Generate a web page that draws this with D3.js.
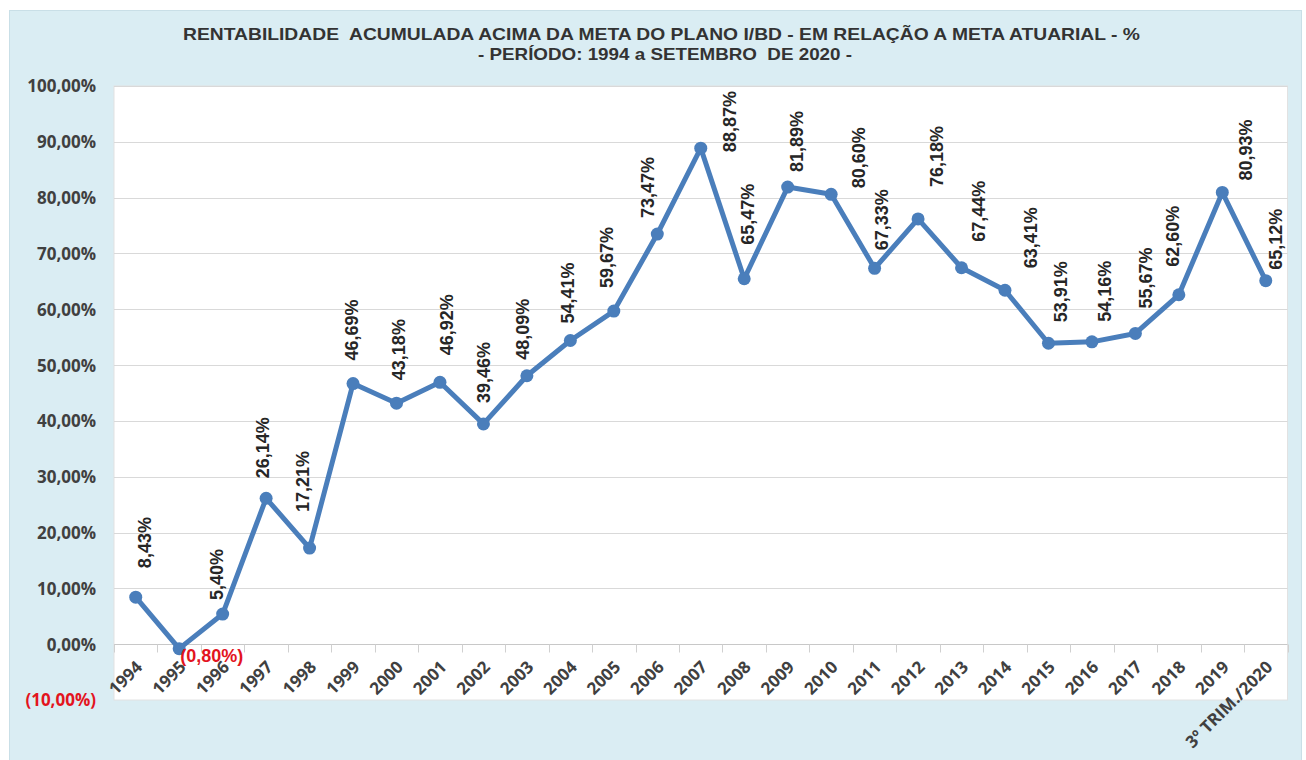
<!DOCTYPE html>
<html>
<head>
<meta charset="utf-8">
<script src="https://cdn.jsdelivr.net/npm/d3@7"></script>
<style>
  html, body { margin: 0; padding: 0; background: #ffffff; }
  svg { display: block; }
  .title text { white-space: pre; }
</style>
</head>
<body>
<script>
// Rentabilidade acumulada acima da meta — Plano I/BD
const categories = ["1994", "1995", "1996", "1997", "1998", "1999", "2000", "2001", "2002", "2003",
  "2004", "2005", "2006", "2007", "2008", "2009", "2010", "2011", "2012", "2013",
  "2014", "2015", "2016", "2017", "2018", "2019", "3º TRIM./2020"];
const values = [8.43, -0.80, 5.40, 26.14, 17.21, 46.69, 43.18, 46.92, 39.46, 48.09,
  54.41, 59.67, 73.47, 88.87, 65.47, 81.89, 80.60, 67.33, 76.18, 67.44,
  63.41, 53.91, 54.16, 55.67, 62.60, 80.93, 65.12];
const yTicks = [-10, 0, 10, 20, 30, 40, 50, 60, 70, 80, 90, 100];
const titleLines = [
  "RENTABILIDADE  ACUMULADA ACIMA DA META DO PLANO I/BD - EM RELAÇÃO A META ATUARIAL - %",
  "- PERÍODO: 1994 a SETEMBRO  DE 2020 -"
];

// label placement relative to each point: [dx, dy]
const labelShift = [
  [9, -29], [1, 7], [-6, -14], [-3, -20], [-7, -36], [-1, -23], [2, -23], [7, -27], [0, -21], [-4, -16],
  [-3, -17], [-7, -23], [-10, -16], [29, 4], [3, -34], [9, -15], [28, -6], [7, -18], [19, -32], [17, -26],
  [26, -22], [12, -21], [13, -20], [10, -25], [-6, -28], [23, -12], [10, -11]
];

const W = 1306, H = 760;
const plot = { left: 114, right: 1287.5, top: 86, bottom: 700 };
const lineColor = "#4a7ebb";
const textDark = "#404040";
const red = "#e3141e";

const fmt = v => {
  const s = Math.abs(v).toFixed(2).replace(".", ",") + "%";
  return v < 0 ? "(" + s + ")" : s;
};

const svg = d3.select("body").append("svg").attr("width", W).attr("height", H);

// chart background
svg.append("rect").attr("x", 9.5).attr("y", 10.5).attr("width", 1292).attr("height", 760)
  .attr("fill", "#daedf3").attr("stroke", "#c9dfe7");

// plot area
svg.append("rect").attr("x", plot.left).attr("y", plot.top)
  .attr("width", plot.right - plot.left).attr("height", plot.bottom - plot.top)
  .attr("fill", "#ffffff").attr("stroke", "#e2e2e2");

const x = d3.scaleBand().domain(categories).range([plot.left, plot.right]).padding(0);
const y = d3.scaleLinear().domain([-10, 100]).range([plot.bottom, plot.top]);

// horizontal gridlines
svg.append("g").selectAll("line").data(yTicks.filter(t => t > 0)).join("line")
  .attr("x1", plot.left).attr("x2", plot.right)
  .attr("y1", d => Math.round(y(d)) + 0.5).attr("y2", d => Math.round(y(d)) + 0.5)
  .attr("stroke", "#d9d9d9").attr("stroke-width", 1);

// zero line with category tick marks at band boundaries
const zeroY = Math.round(y(0)) + 0.5;
svg.append("line").attr("x1", plot.left).attr("x2", plot.right)
  .attr("y1", zeroY).attr("y2", zeroY).attr("stroke", "#c8c8c8");
const bounds = d3.range(categories.length + 1).map(i => plot.left + i * x.bandwidth());
svg.append("g").selectAll("line").data(bounds).join("line")
  .attr("x1", d => Math.round(d) + 0.5).attr("x2", d => Math.round(d) + 0.5)
  .attr("y1", zeroY).attr("y2", zeroY + 8)
  .attr("stroke", "#d0d0d0");

// y axis labels
const yAxis = svg.append("g")
  .attr("transform", `translate(${plot.left - 18},0)`)
  .call(d3.axisLeft(y).tickValues(yTicks).tickFormat(fmt).tickSize(0).tickPadding(0));
yAxis.select(".domain").remove();
yAxis.selectAll("text")
  .attr("font-family", "'Open Sans', sans-serif").attr("font-weight", 700).attr("font-size", 17)
  .attr("fill", d => d < 0 ? red : textDark)
  .attr("dy", "0.35em");

// x axis labels, rotated
const xAxis = svg.append("g")
  .attr("transform", `translate(0,${zeroY + 23})`)
  .call(d3.axisBottom(x).tickSize(0).tickPadding(0));
xAxis.select(".domain").remove();
xAxis.selectAll("text")
  .attr("font-family", "'Open Sans', sans-serif").attr("font-weight", 700).attr("font-size", 17)
  .attr("fill", textDark)
  .attr("text-anchor", "end")
  .attr("x", 5).attr("y", 0).attr("dy", "0.35em")
  .attr("transform", "rotate(-45)");

// series line and markers
const cx = (d, i) => x(categories[i]) + x.bandwidth() / 2;
const line = d3.line().x((d, i) => cx(d, i)).y(d => y(d));
svg.append("path").datum(values).attr("d", line)
  .attr("fill", "none").attr("stroke", lineColor).attr("stroke-width", 5)
  .attr("stroke-linejoin", "round");
svg.append("g").selectAll("circle").data(values).join("circle")
  .attr("cx", cx).attr("cy", d => y(d)).attr("r", 6.5).attr("fill", lineColor);

// value labels
const labels = svg.append("g")
  .attr("font-family", "'Liberation Sans', Arial, sans-serif").attr("font-weight", 700)
  .attr("font-size", 18);
values.forEach((v, i) => {
  const px = cx(v, i), py = y(v);
  const [dx, dy] = labelShift[i];
  if (v < 0) {
    labels.append("text").attr("x", px + dx).attr("y", py + dy).attr("dy", "0.35em")
      .attr("fill", red).attr("font-size", 18).text(fmt(v));
  } else {
    labels.append("text")
      .attr("transform", `translate(${px + dx},${py + dy}) rotate(-90)`)
      .attr("dy", "0.35em").attr("fill", "#262626").text(fmt(v));
  }
});

// title
const title = svg.append("g").attr("class", "title")
  .attr("font-family", "'Liberation Sans Narrow', 'Arial Narrow', 'Liberation Sans', Arial, sans-serif")
  .attr("font-weight", 700).attr("font-size", 16.5).attr("fill", "#333333")
  .attr("text-anchor", "middle");
title.append("text").attr("x", 661.5).attr("y", 40).attr("textLength", 957)
  .attr("lengthAdjust", "spacingAndGlyphs").text(titleLines[0]);
title.append("text").attr("x", 665).attr("y", 60).attr("textLength", 374)
  .attr("lengthAdjust", "spacingAndGlyphs").text(titleLines[1]);
</script>
</body>
</html>
